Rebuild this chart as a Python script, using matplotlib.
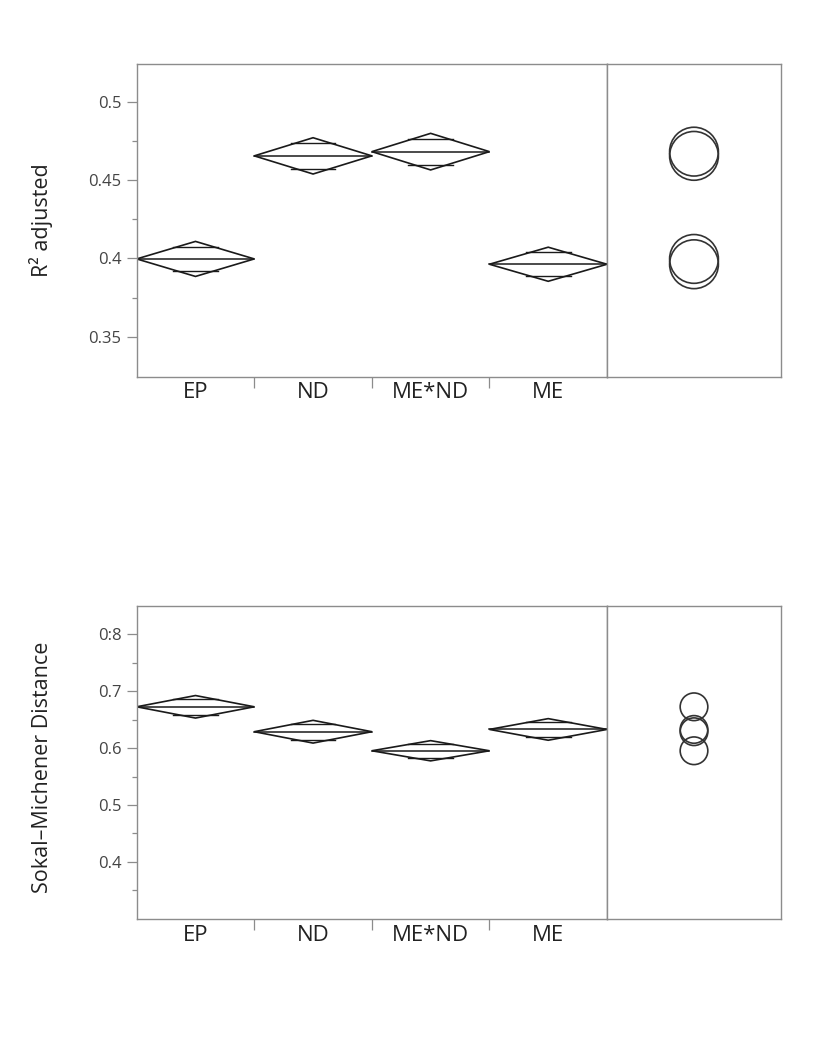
import matplotlib
matplotlib.use('Agg')
import matplotlib.pyplot as plt
import numpy as np
from matplotlib.patches import Polygon, Ellipse

plt.rcParams['font.family'] = ['Open Sans', 'DejaVu Sans']

groups = ['EP', 'ND', 'ME*ND', 'ME']

# R2 adjusted: group means, 95% diamond half-heights, comparison circle radii
r2_mean = [0.3997, 0.4656, 0.4683, 0.3963]
r2_ci = [0.0112, 0.0116, 0.0117, 0.0109]
r2_circle = [0.0156, 0.0156, 0.0156, 0.0156]
r2_ticks = [0.35, 0.4, 0.45, 0.5]
r2_ticklabels = ['0.35', '0.4', '0.45', '0.5']

# Sokal-Michener distance
sm_mean = [0.6726, 0.6288, 0.5953, 0.6328]
sm_ci = [0.0198, 0.0200, 0.0178, 0.0190]
sm_circle = [0.0243, 0.0243, 0.0243, 0.0243]
sm_ticks = [0.4, 0.5, 0.6, 0.7, 0.8]
sm_ticklabels = ['0.4', '0.5', '0.6', '0.7', '0:8']

W, H = 8.29, 10.59
fig = plt.figure(figsize=(W, H), dpi=100)

spine_col = '#8c8c8c'
line_col = '#1a1a1a'


def draw(bottom, means, ci, radius, ylim, ticks, ticklabels, ylabel, lab_y):
    left, mid, right, height = 0.1649, 0.7322, 0.9421, 0.2955
    ax = fig.add_axes([left, bottom, mid - left, height])
    axr = fig.add_axes([mid, bottom, right - mid, height])

    n = len(means)
    for i in range(n):
        m, h = means[i], ci[i]
        x0, xc, x1 = i, i + 0.5, i + 1
        ax.add_patch(Polygon([[x0, m], [xc, m + h], [x1, m], [xc, m - h]],
                             closed=True, fill=False, ec=line_col, lw=1.2))
        ax.plot([x0, x1], [m, m], color=line_col, lw=1.1)
        off = h / np.sqrt(2)
        hw = 0.19
        for s in (1, -1):
            ax.plot([xc - hw, xc + hw], [m + s * off, m + s * off], color=line_col, lw=1.0)

    ax.set_xlim(0, n)
    ax.set_ylim(*ylim)
    ax.set_xticks(np.arange(1, n))
    ax.set_xticklabels([])
    ax.set_xticks(np.arange(n) + 0.5, minor=True)
    ax.set_xticklabels(groups, minor=True, fontsize=16, color='#222222')
    ax.tick_params(axis='x', which='major', length=8, width=0.9, color=spine_col)
    ax.tick_params(axis='x', which='minor', length=0, pad=4)

    ax.set_yticks(ticks)
    ax.set_yticklabels(ticklabels, fontsize=12, color='#444444')
    step = ticks[1] - ticks[0]
    minors = np.arange(ticks[0] - step / 2, ylim[1], step)
    ax.set_yticks([v for v in minors if ylim[0] + 0.003 < v < ylim[1]], minor=True)
    ax.tick_params(axis='y', which='major', length=7, width=0.9, color=spine_col, pad=4)
    ax.tick_params(axis='y', which='minor', length=3.5, width=0.9, color=spine_col)

    ax.set_ylabel(ylabel, fontsize=15.5, color='#222222')
    ax.yaxis.set_label_coords(-0.177, lab_y)

    for a in (ax, axr):
        for sp in a.spines.values():
            sp.set_color(spine_col)
            sp.set_linewidth(1.0)
    ax.spines['right'].set_color('#6e6e6e')

    axr.set_xlim(0, 1)
    axr.set_ylim(*ylim)
    axr.set_xticks([])
    axr.set_yticks([])
    # keep circles round: width in x-units from pixel scale
    px_w = (right - mid) * W
    px_h = height * H
    yr = ylim[1] - ylim[0]
    for m, r in zip(means, radius):
        wx = 2 * r / yr * px_h / px_w
        axr.add_patch(Ellipse((0.5, m), wx, 2 * r, fill=False, ec='#333333', lw=1.2))
    return ax, axr


draw(0.6443, r2_mean, r2_ci, r2_circle, (0.3244, 0.5245), r2_ticks, r2_ticklabels,
     'R² adjusted', 0.5)
draw(0.1322, sm_mean, sm_ci, sm_circle, (0.2995, 0.8497), sm_ticks, sm_ticklabels,
     'Sokal–Michener Distance', 0.485)

fig.savefig('out.png', dpi=100)
